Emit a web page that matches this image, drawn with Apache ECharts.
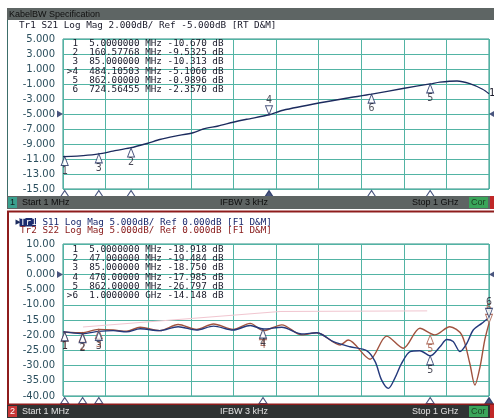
<!DOCTYPE html>
<html><head><meta charset="utf-8">
<script src="https://cdn.jsdelivr.net/npm/echarts@6/dist/echarts.min.js"></script>
<style>html,body{margin:0;padding:0;background:#fff}#c{width:494px;height:418px}</style>
</head><body><div id="c"></div>
<script>
// ---------- data ----------
const s21Freq = [1, 20, 48.6, 85, 118, 158, 200, 228, 264, 306, 330, 365, 400, 432, 484, 517, 604, 665, 725, 798, 862, 885, 925, 955, 985, 1000];
const s21Val  = [-10.67, -10.66, -10.55, -10.31, -9.95, -9.53, -8.9, -8.4, -7.95, -7.5, -7.0, -6.6, -6.1, -5.7, -5.1, -4.5, -3.5, -2.9, -2.36, -1.6, -0.99, -0.75, -0.6, -0.95, -1.7, -2.3];

const s11Freq = [1, 5, 47, 85, 119, 150, 182, 228, 271, 314, 354, 400, 440, 471, 514, 561, 596, 635, 674, 713, 733, 748, 764, 779, 795, 815, 838, 862, 885, 901, 916, 932, 948, 963, 983, 1000];
const s11Val  = [-18.9, -18.92, -19.48, -18.75, -18.5, -18.9, -17.9, -18.5, -17.2, -18.3, -17.0, -18.3, -16.8, -17.985, -17.4, -19.6, -19.2, -22.1, -23.8, -25.1, -28.7, -34.7, -37.5, -34.2, -29.3, -25.4, -25.1, -26.8, -23.8, -21.4, -22.1, -25.4, -22.7, -18.3, -16.1, -14.15];

const s22Freq = [1, 5, 45, 84, 119, 150, 182, 228, 271, 314, 354, 400, 440, 471, 514, 561, 596, 651, 670, 721, 760, 799, 838, 873, 908, 936, 955, 967, 979, 990, 1000];
const s22Val  = [-18.9, -19.0, -19.2, -18.1, -18.3, -18.7, -17.4, -18.5, -16.5, -18.1, -16.3, -18.1, -16.1, -18.5, -16.6, -19.9, -19.2, -23.2, -21.6, -27.9, -20.3, -24.3, -17.7, -19.9, -17.2, -19.9, -29.3, -36.4, -30.4, -21.6, -16.1];

const ghostFreq = [48, 510, 855];
const ghostVal  = [-17.3, -12.2, -12.0];

const topTickLabels = ["-15.00","-13.00","-11.00","-9.000","-7.000","-5.000","-3.000","-1.000","1.000","3.000","5.000"];
const botTickLabels = ["-40.00","-35.00","-30.00","-25.00","-20.00","-15.00","-10.00","-5.000","0.000","5.000","10.00"];

const topMkNum      = ["1","2","3","4","5","6"];
const topMkFreq     = [5, 160.57768, 85, 484.10503, 862, 724.56455];
const topMkFreqText = ["5.0000000","160.57768","85.000000","484.10503","862.00000","724.56455"];
const topMkUnit     = ["MHz","MHz","MHz","MHz","MHz","MHz"];
const topMkVal      = [-10.670, -9.5325, -10.313, -5.1060, -0.9896, -2.3570];
const topMkValText  = ["-10.670","-9.5325","-10.313","-5.1060","-0.9896","-2.3570"];
const topActive = 3;

const botMkNum      = ["1","2","3","4","5","6"];
const botMkFreq     = [5, 47, 85, 470, 862, 1000];
const botMkFreqText = ["5.0000000","47.000000","85.000000","470.00000","862.00000","1.0000000"];
const botMkUnit     = ["MHz","MHz","MHz","MHz","MHz","GHz"];
const botMkVal      = [-18.918, -19.484, -18.750, -17.985, -26.797, -14.148];
const botMkValText  = ["-18.918","-19.484","-18.750","-17.985","-26.797","-14.148"];
const s22MkVal      = [-19.0, -19.2, -18.1, -18.5, -19.9, -16.1];
const botActive = 5;

const topRef = -5, botRef = 0;

// ---------- styles ----------
const NAVY = '#1c2b5e', BLUE = '#24397c', BROWN = '#a0523e', GRID = '#52b4a4', LBL = '#2b4f5e';
const MONO = '"DejaVu Sans Mono", monospace';
const CW = 5.6, MFS = 9.3;

const pairs = (f, v) => f.map((x, i) => [x, v[i]]);

function markerData(freqs, vals, nums, active, color) {
  return freqs.map((f, i) => {
    const act = i === active;
    return {
      value: [f, vals[i]],
      symbolRotate: act ? 180 : 0,
      symbolOffset: act ? [0, -4.5] : [0, 4.5],
      label: { show: true, formatter: nums[i], position: act ? 'top' : 'bottom', distance: 0,
               color: color, fontFamily: MONO, fontSize: 10 }
    };
  });
}
function edgeData(freqs, min, active, color) {
  return freqs.map((f, i) => ({
    value: [f, min],
    itemStyle: { color: i === active ? color : '#fff', borderColor: color, borderWidth: 1 }
  }));
}

function tableText(freqTxt, unit, valTxt, nums, active, y0, color) {
  return nums.map((n, i) => ({
    type: 'text', z: 100, silent: true,
    style: {
      text: (i === active ? '>' : ' ') + n + '  ' + freqTxt[i] + ' ' + unit[i] + ' ' + valTxt[i] + ' dB',
      x: 66.8, y: y0 + i * 9.25, fill: color, font: MFS + 'px ' + MONO, textVerticalAlign: 'middle'
    }
  }));
}

function statusBar(y, h, bg, fg, num, numBg, numFg) {
  const t = (txt, x) => ({ type: 'text', z: 50, style: { text: txt, x: x, y: y + h / 2 + 0.5, fill: fg,
      font: '9px "Liberation Sans", Arial, sans-serif', textVerticalAlign: 'middle' } });
  return [
    { type: 'rect', z: 40, shape: { x: 7, y: y, width: 487, height: h }, style: { fill: bg } },
    { type: 'rect', z: 45, shape: { x: 8, y: y + 1, width: 9, height: h - 2 }, style: { fill: numBg } },
    { type: 'text', z: 50, style: { text: num, x: 12.5, y: y + h / 2 + 0.5, fill: numFg, textAlign: 'center',
        font: '9px "Liberation Sans", Arial, sans-serif', textVerticalAlign: 'middle' } },
    t('Start 1 MHz', 22), t('IFBW 3 kHz', 220), t('Stop 1 GHz', 412),
    { type: 'rect', z: 45, shape: { x: 469, y: y + 1, width: 19, height: h - 2 }, style: { fill: '#3aa55a' } },
    { type: 'text', z: 50, style: { text: 'Cor', x: 471, y: y + h / 2 + 0.5, fill: '#1d3d22',
        font: '9px "Liberation Sans", Arial, sans-serif', textVerticalAlign: 'middle' } },
    { type: 'rect', z: 45, shape: { x: 490, y: y, width: 4, height: h }, style: { fill: '#c02828' } }
  ];
}

const graphics = [].concat(
  [
    { type: 'rect', z: 40, shape: { x: 7, y: 8, width: 487, height: 12 }, style: { fill: '#5e6564' } },
    { type: 'text', z: 50, style: { text: 'KabelBW Specification', x: 9, y: 14.5, fill: '#101010',
        font: '9px "Liberation Sans", Arial, sans-serif', textVerticalAlign: 'middle' } },
    { type: 'line', z: 40, shape: { x1: 7.5, y1: 20, x2: 7.5, y2: 197 }, style: { stroke: '#3c6e6a', lineWidth: 1 } },
    { type: 'text', z: 50, style: { text: 'Tr1 S21 Log Mag 2.000dB/ Ref -5.000dB [RT D&M]', x: 19, y: 26,
        fill: '#1a1a2a', font: MFS + 'px ' + MONO, textVerticalAlign: 'middle' } },
    // bottom panel frame
    { type: 'rect', z: 40, shape: { x: 8, y: 211.5, width: 490, height: 193 }, style: { fill: 'none', stroke: '#8e1c1c', lineWidth: 2 } },
    { type: 'text', z: 50, style: { text: '\u25B6', x: 15.5, y: 222, fill: NAVY, font: '7px "DejaVu Sans"', textVerticalAlign: 'middle' } },
    { type: 'rect', z: 45, shape: { x: 19.5, y: 218, width: 16.5, height: 8.5 }, style: { fill: '#1c2b6e' } },
    { type: 'text', z: 50, style: { text: 'Tr1', x: 20, y: 222.3, fill: '#fff', font: MFS + 'px ' + MONO, textVerticalAlign: 'middle' } },
    { type: 'text', z: 50, style: { text: 'S11 Log Mag 5.000dB/ Ref 0.000dB [F1 D&M]', x: 20 + 4 * CW, y: 222.3,
        fill: '#1c2b6e', font: MFS + 'px ' + MONO, textVerticalAlign: 'middle' } },
    { type: 'text', z: 50, style: { text: 'Tr2 S22 Log Mag 5.000dB/ Ref 0.000dB [F1 D&M]', x: 20, y: 231,
        fill: '#8b2020', font: MFS + 'px ' + MONO, textVerticalAlign: 'middle' } }
  ],
  statusBar(196, 13, '#5e6463', '#0c0c0c', '1', '#3aa08e', '#102020'),
  statusBar(405, 13, '#2f3333', '#e2e2e2', '2', '#c83838', '#ffffff'),
  tableText(topMkFreqText, topMkUnit, topMkValText, topMkNum, topActive, 43.5, '#1a1a2a'),
  tableText(botMkFreqText, botMkUnit, botMkValText, botMkNum, botActive, 249.5, '#1a1a2a')
);

function xAx(gi) {
  return { gridIndex: gi, type: 'value', min: 1, max: 1000, interval: 99.9,
    axisLabel: { show: false }, axisTick: { show: false }, axisLine: { show: false },
    splitLine: { show: true, lineStyle: { color: GRID, width: 1 } } };
}
function yAx(gi, min, max, step, labels) {
  return { gridIndex: gi, type: 'value', min: min, max: max, interval: step,
    axisTick: { show: false }, axisLine: { show: false },
    splitLine: { show: true, lineStyle: { color: GRID, width: 1 } },
    axisLabel: { margin: 8, color: LBL, fontSize: 10, fontFamily: '"DejaVu Sans", sans-serif',
      formatter: v => labels[Math.round((v - min) / step)] } };
}

const option = {
  animation: false,
  backgroundColor: '#ffffff',
  grid: [
    { left: 63, top: 39, width: 426, height: 150, show: true, backgroundColor: '#fff', borderColor: '#2f8f84', borderWidth: 1 },
    { left: 63, top: 244, width: 426, height: 152, show: true, backgroundColor: '#fff', borderColor: '#2f8f84', borderWidth: 1 }
  ],
  xAxis: [xAx(0), xAx(1)],
  yAxis: [yAx(0, -15, 5, 2, topTickLabels), yAx(1, -40, 10, 5, botTickLabels)],
  graphic: graphics,
  series: [
    { type: 'line', xAxisIndex: 0, yAxisIndex: 0, data: pairs(s21Freq, s21Val), smooth: 0.25, symbol: 'none',
      lineStyle: { color: NAVY, width: 1.3 },
      endLabel: { show: true, formatter: '1', distance: 0, color: '#1a1a2a', fontFamily: MONO, fontSize: 10 } },
    { type: 'scatter', xAxisIndex: 0, yAxisIndex: 0, symbol: 'triangle', symbolSize: [7, 9], z: 5,
      itemStyle: { color: '#fff', borderColor: NAVY, borderWidth: 1 },
      data: markerData(topMkFreq, topMkVal, topMkNum, topActive, '#1a1a2a') },
    { type: 'scatter', xAxisIndex: 0, yAxisIndex: 0, symbol: 'triangle', symbolSize: [8, 6], symbolOffset: [0, 4.5],
      clip: false, data: edgeData(topMkFreq, -15, topActive, NAVY) },
    { type: 'scatter', xAxisIndex: 0, yAxisIndex: 0, symbol: 'triangle', symbolSize: [7, 6], clip: false,
      itemStyle: { color: NAVY },
      data: [{ value: [1, topRef], symbolRotate: -90, symbolOffset: [-3, 0] },
             { value: [1000, topRef], symbolRotate: 90, symbolOffset: [3, 0] }] },

    { type: 'line', xAxisIndex: 1, yAxisIndex: 1, data: pairs(ghostFreq, ghostVal), symbol: 'none',
      lineStyle: { color: '#f1c6d0', width: 1 } },
    { type: 'line', xAxisIndex: 1, yAxisIndex: 1, data: pairs(s22Freq, s22Val), smooth: 0.3, symbol: 'none',
      lineStyle: { color: BROWN, width: 1.4 } },
    { type: 'line', xAxisIndex: 1, yAxisIndex: 1, data: pairs(s11Freq, s11Val), smooth: 0.3, symbol: 'none',
      lineStyle: { color: BLUE, width: 1.4 } },
    { type: 'scatter', xAxisIndex: 1, yAxisIndex: 1, symbol: 'triangle', symbolSize: [7, 9], z: 5, clip: false,
      itemStyle: { color: '#fff', borderColor: BROWN, borderWidth: 1 },
      data: markerData(botMkFreq, s22MkVal, botMkNum, botActive, BROWN) },
    { type: 'scatter', xAxisIndex: 1, yAxisIndex: 1, symbol: 'triangle', symbolSize: [7, 9], z: 6, clip: false,
      itemStyle: { color: '#fff', borderColor: NAVY, borderWidth: 1 },
      data: markerData(botMkFreq, botMkVal, botMkNum, botActive, '#1a1a2a') },
    { type: 'scatter', xAxisIndex: 1, yAxisIndex: 1, symbol: 'triangle', symbolSize: [8, 6], symbolOffset: [0, 4.5],
      clip: false, data: edgeData(botMkFreq, -40, botActive, NAVY) },
    { type: 'scatter', xAxisIndex: 1, yAxisIndex: 1, symbol: 'triangle', symbolSize: [7, 6], clip: false,
      itemStyle: { color: NAVY },
      data: [{ value: [1, botRef], symbolRotate: -90, symbolOffset: [-3, 0] },
             { value: [1000, botRef], symbolRotate: 90, symbolOffset: [3, 0] }] }
  ]
};

const chart = echarts.init(document.getElementById('c'), null, { renderer: 'canvas' });
chart.setOption(option);
</script>
</body></html>
